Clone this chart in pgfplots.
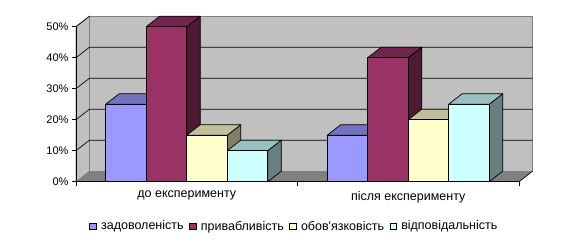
\documentclass[border=0pt]{standalone}
\usepackage{pgfplots}
\pgfplotsset{compat=1.18}
\usepackage{fontspec}
\setmainfont{Liberation Sans}[Ligatures=TeXOff]
\definecolor{fBlue}{HTML}{9999FF}
\definecolor{tBlue}{HTML}{7373BF}
\definecolor{sBlue}{HTML}{4C4C80}
\definecolor{fMar}{HTML}{993366}
\definecolor{tMar}{HTML}{73264D}
\definecolor{sMar}{HTML}{4D1A33}
\definecolor{fYel}{HTML}{FFFFCC}
\definecolor{tYel}{HTML}{BFBF99}
\definecolor{sYel}{HTML}{808066}
\definecolor{fCya}{HTML}{CCFFFF}
\definecolor{tCya}{HTML}{99BFBF}
\definecolor{sCya}{HTML}{668080}
\definecolor{wallgray}{HTML}{C0C0C0}
\definecolor{floorgray}{HTML}{808080}

% 3D bar drawn at its data point: origin = category centre at the bar's top
% #1 front colour, #2 top colour, #3 side colour, #4 bar shift
\newcommand{\barfaces}[4]{%
  \pgftransformxshift{#4}%
  \pgfmathsetlengthmacro{\hh}{\myy*3.1}%
  \pgfsetlinewidth{0.7pt}\pgfsetstrokecolor{black}\pgfsetroundjoin
  \pgfsetfillcolor{#3}%
  \pgfpathmoveto{\pgfpoint{20.25pt}{0pt}}%
  \pgfpathlineto{\pgfpoint{33.75pt}{10.5pt}}%
  \pgfpathlineto{\pgfpoint{33.75pt}{10.5pt-\hh}}%
  \pgfpathlineto{\pgfpoint{20.25pt}{-\hh}}%
  \pgfpathclose
  \pgfusepath{fill,stroke}%
  \pgfsetfillcolor{#2}%
  \pgfpathmoveto{\pgfpoint{-20.25pt}{0pt}}%
  \pgfpathlineto{\pgfpoint{20.25pt}{0pt}}%
  \pgfpathlineto{\pgfpoint{33.75pt}{10.5pt}}%
  \pgfpathlineto{\pgfpoint{-6.75pt}{10.5pt}}%
  \pgfpathclose
  \pgfusepath{fill,stroke}%
  \pgfsetfillcolor{#1}%
  \pgfpathrectanglecorners{\pgfpoint{-20.25pt}{-\hh}}{\pgfpoint{20.25pt}{0pt}}%
  \pgfusepath{fill,stroke}%
}
\pgfdeclareplotmark{bBlue}{\barfaces{fBlue}{tBlue}{sBlue}{-60.75pt}}
\pgfdeclareplotmark{bMar}{\barfaces{fMar}{tMar}{sMar}{-20.25pt}}
\pgfdeclareplotmark{bYel}{\barfaces{fYel}{tYel}{sYel}{20.25pt}}
\pgfdeclareplotmark{bCya}{\barfaces{fCya}{tCya}{sCya}{60.75pt}}

\begin{document}
\begin{tikzpicture}
\path[use as bounding box] (0,0) rectangle (579pt,245pt);
\begin{axis}[
  at={(76pt,63.3pt)}, anchor=south west,
  scale only axis, x=221.5pt, y=3.1pt,
  xmin=-0.5, xmax=1.5, ymin=0, ymax=50,
  clip=false, axis on top,
  axis x line*=bottom, axis y line*=left,
  axis line style={black, line width=0.7pt, -},
  ytick={0,10,...,50},
  yticklabel={\pgfmathprintnumber{\tick}\%},
  xtick={-0.5,0.5,1.5}, xticklabels={},
  extra x ticks={0,1},
  extra x tick labels={до експерименту, після експерименту},
  extra x tick style={major tick length=0pt, tick label style={yshift=-6pt, font=\fontsize{12.5}{14}\selectfont}},
  tick align=outside, major tick length=4pt,
  tick style={black, line width=0.7pt},
  ticklabel style={font=\fontsize{11}{13}\selectfont},
  /pgf/number format/assume math mode=true,
  legend columns=4,
  legend style={at={(0.493,0)}, anchor=center, yshift=-44.5pt,
    draw=none, fill=none, font=\fontsize{12.5}{14}\selectfont,
    /tikz/every odd column/.append style={column sep=2.5pt},
    /tikz/every even column/.append style={column sep=3.5pt},
    inner sep=0pt},
  legend image code/.code={\draw[#1, draw=black, line width=0.6pt] (0pt,-3.3pt) rectangle (6.6pt,3.3pt);},
  visualization depends on={rawy\as\myy},
]
% walls and floor
\filldraw[fill=wallgray, draw=floorgray, line width=0.7pt]
  ([shift={(13.5pt,10.5pt)}]axis cs:-0.5,0) rectangle ([shift={(13.5pt,10.5pt)}]axis cs:1.5,50);
\filldraw[fill=wallgray, draw=floorgray, line width=0.7pt]
  (axis cs:-0.5,0) -- (axis cs:-0.5,50) -- ([shift={(13.5pt,10.5pt)}]axis cs:-0.5,50)
  -- ([shift={(13.5pt,10.5pt)}]axis cs:-0.5,0) -- cycle;
\fill[floorgray]
  (axis cs:-0.5,0) -- (axis cs:1.5,0) -- ([shift={(13.5pt,10.5pt)}]axis cs:1.5,0)
  -- ([shift={(13.5pt,10.5pt)}]axis cs:-0.5,0) -- cycle;
\draw[black, line width=0.7pt] (axis cs:1.5,0) -- ([shift={(13.5pt,10.5pt)}]axis cs:1.5,0);
\pgfplotsinvokeforeach{10,20,30,40}{
  \draw[black, line width=0.7pt] (axis cs:-0.5,#1) -- ([shift={(13.5pt,10.5pt)}]axis cs:-0.5,#1)
    -- ([shift={(13.5pt,10.5pt)}]axis cs:1.5,#1);
}
\draw[black, line width=0.7pt] (axis cs:-0.5,50) -- ([shift={(13.5pt,10.5pt)}]axis cs:-0.5,50);

\addplot[ybar, bar width=40.5pt, bar shift=-60.75pt, fill=fBlue, draw=black, line width=0.7pt, mark=bBlue]
  coordinates {(0,25) (1,15)};
\addlegendentry{задоволеність}
\addplot[ybar, bar width=40.5pt, bar shift=-20.25pt, fill=fMar, draw=black, line width=0.7pt, mark=bMar]
  coordinates {(0,50) (1,40)};
\addlegendentry{привабливість}
\addplot[ybar, bar width=40.5pt, bar shift=20.25pt, fill=fYel, draw=black, line width=0.7pt, mark=bYel]
  coordinates {(0,15) (1,20)};
\addlegendentry{обов'язковість}
\addplot[ybar, bar width=40.5pt, bar shift=60.75pt, fill=fCya, draw=black, line width=0.7pt, mark=bCya]
  coordinates {(0,10) (1,25)};
\addlegendentry{відповідальність}
\end{axis}
\end{tikzpicture}
\end{document}
